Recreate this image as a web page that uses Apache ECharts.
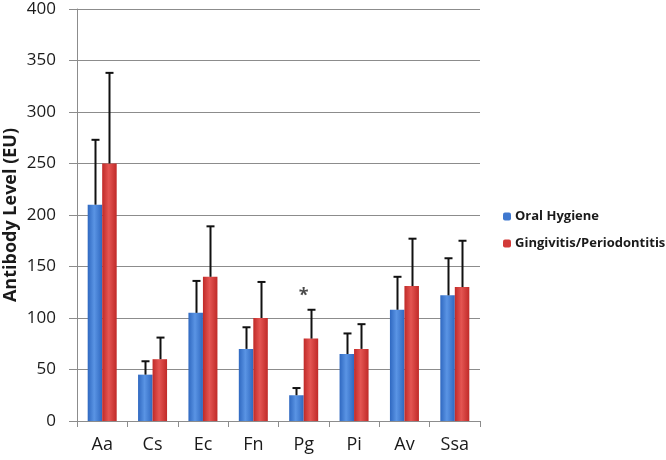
<!DOCTYPE html>
<html>
<head>
<meta charset="utf-8">
<script src="https://cdn.jsdelivr.net/npm/echarts@6/dist/echarts.min.js"></script>
<style>html,body{margin:0;padding:0;background:#fff}#c{width:666px;height:460px}</style>
</head>
<body>
<div id="c"></div>
<script>
var categories = ['Aa', 'Cs', 'Ec', 'Fn', 'Pg', 'Pi', 'Av', 'Ssa'];
var oralHygiene = [210, 45, 105, 70, 25, 65, 108, 122];
var oralHygieneErr = [273, 58, 136, 91, 32, 85, 140, 158];
var gingivitis = [250, 60, 140, 100, 80, 70, 131, 130];
var gingivitisErr = [338, 81, 189, 135, 108, 94, 177, 175];
var asterisk = [null, null, null, null, 121, null, null, null];
var yTicks = [0, 50, 100, 150, 200, 250, 300, 350, 400];

var BAR_W = 14.5;
var chart = echarts.init(document.getElementById('c'));

function errSeries(vals, tops, offset) {
  return {
    type: 'custom',
    silent: true,
    z: 5,
    data: tops.map(function (v, i) { return [i, v, vals[i]]; }),
    renderItem: function (params, api) {
      var i = api.value(0);
      var top = api.coord([i, api.value(1)]);
      var barTop = api.coord([i, api.value(2)]);
      var x = Math.round(top[0] + offset) + 0.5;
      return {
        type: 'group',
        children: [
          { type: 'line', shape: { x1: x, y1: top[1], x2: x, y2: barTop[1] }, style: { stroke: '#111', lineWidth: 2 } },
          { type: 'line', shape: { x1: x - 4, y1: top[1], x2: x + 4, y2: top[1] }, style: { stroke: '#111', lineWidth: 2 } }
        ]
      };
    }
  };
}

function grad(dark, light) {
  return new echarts.graphic.LinearGradient(0, 0, 1, 0, [
    { offset: 0, color: dark },
    { offset: 0.45, color: light },
    { offset: 1, color: dark }
  ]);
}

chart.setOption({
  animation: false,
  grid: { left: 77, right: 186, top: 9, bottom: 39, containLabel: false, outerBoundsMode: 'none' },
  legend: {
    orient: 'vertical',
    left: 498,
    top: 205,
    itemWidth: 8,
    itemHeight: 8,
    itemGap: 14,
    textStyle: { fontFamily: 'Open Sans', fontWeight: 'bold', fontSize: 13, color: '#1a1a1a', padding: [0, 0, 0, -1] },
    data: [
      { name: 'Oral Hygiene', itemStyle: { color: '#3f78cf' } },
      { name: 'Gingivitis/Periodontitis', itemStyle: { color: '#d23a38' } }
    ]
  },
  xAxis: {
    type: 'category',
    data: categories,
    axisLine: { lineStyle: { color: '#8c8c8c', width: 1 } },
    axisTick: { show: true, length: 6, lineStyle: { color: '#8c8c8c' } },
    axisLabel: { fontFamily: 'Open Sans', fontSize: 18, color: '#1a1a1a', margin: 15 }
  },
  yAxis: {
    type: 'value',
    min: 0,
    max: 400,
    interval: 50,
    name: 'Antibody Level (EU)',
    nameLocation: 'middle',
    nameGap: 57,
    nameMoveOverlap: false,
    nameTextStyle: { fontFamily: 'Open Sans', fontWeight: 'bold', fontSize: 18, color: '#1a1a1a' },
    axisLine: { show: true, lineStyle: { color: '#8c8c8c', width: 1 } },
    axisTick: { show: true, length: 8, lineStyle: { color: '#8c8c8c' } },
    splitLine: { lineStyle: { color: '#8c8c8c', width: 1 } },
    axisLabel: {
      fontFamily: 'Open Sans', fontSize: 17, color: '#1a1a1a', margin: 21,
      formatter: function (v) { return yTicks.indexOf(v) >= 0 ? String(v) : ''; }
    }
  },
  series: [
    {
      name: 'Oral Hygiene', type: 'bar', data: oralHygiene, barWidth: BAR_W, barGap: '0%', z: 3,
      itemStyle: { color: grad('#2f68c0', '#5a94e4') }
    },
    {
      name: 'Gingivitis/Periodontitis', type: 'bar', data: gingivitis, barWidth: BAR_W, barGap: '0%', z: 3,
      itemStyle: { color: grad('#c02a28', '#e45552') }
    },
    errSeries(oralHygiene, oralHygieneErr, -BAR_W / 2),
    errSeries(gingivitis, gingivitisErr, BAR_W / 2),
    {
      type: 'scatter', data: asterisk, symbolSize: 0, silent: true,
      label: { show: true, formatter: '*', position: 'inside', fontFamily: 'Open Sans', fontWeight: 'bold', fontSize: 18, color: '#1a1a1a' }
    }
  ]
});
</script>
</body>
</html>
